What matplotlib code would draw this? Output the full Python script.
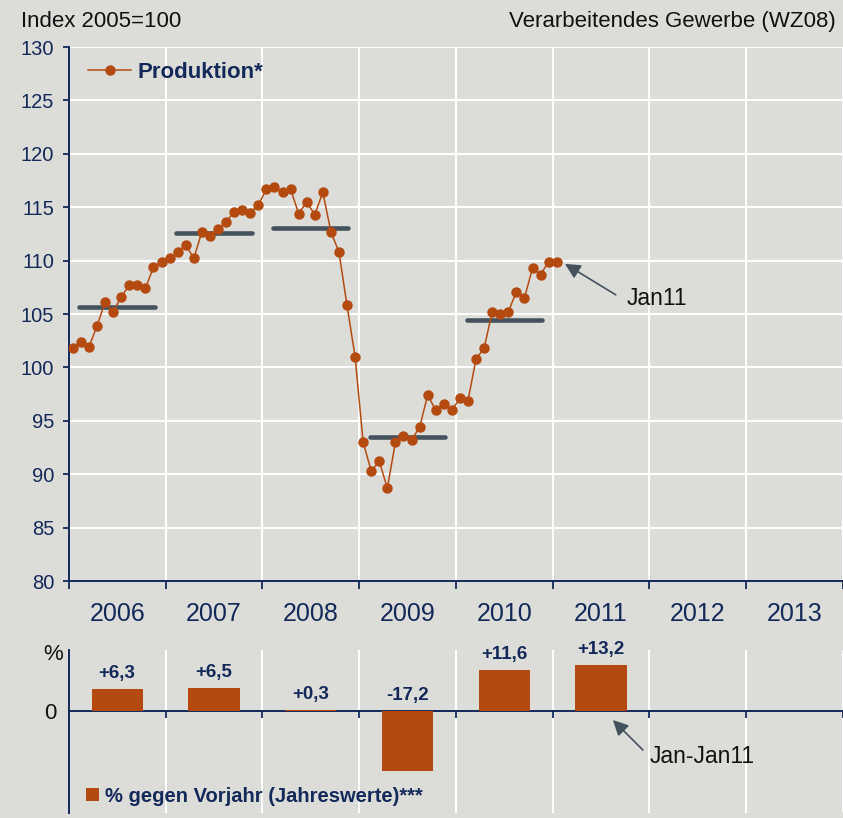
import numpy as np
import matplotlib
matplotlib.use("Agg")
import matplotlib.pyplot as plt
from matplotlib.lines import Line2D
from matplotlib.patches import Patch

plt.rcParams['font.family'] = ['Liberation Sans', 'DejaVu Sans']

# ---- data ----
years = [2006, 2007, 2008, 2009, 2010, 2011, 2012, 2013]
production = [
    101.8, 102.4, 101.9, 103.9, 106.1, 105.2, 106.6, 107.7, 107.7, 107.4, 109.4, 109.9,   # 2006
    110.2, 110.8, 111.5, 110.2, 112.7, 112.3, 113.0, 113.6, 114.6, 114.7, 114.5, 115.2,   # 2007
    116.7, 116.9, 116.4, 116.7, 114.4, 115.5, 114.3, 116.4, 112.7, 110.8, 105.8, 101.0,   # 2008
    93.0, 90.3, 91.2, 88.7, 93.0, 93.6, 93.2, 94.4, 97.4, 96.0, 96.6, 96.0,               # 2009
    97.1, 96.9, 100.8, 101.8, 105.2, 105.0, 105.2, 107.1, 106.5, 109.3, 108.7, 109.9,     # 2010
    109.9,                                                                                # Jan 2011
]
avg_years = [2006, 2007, 2008, 2009, 2010]
avg_values = [105.7, 112.6, 113.05, 93.45, 104.4]
pct_years = [2006, 2007, 2008, 2009, 2010, 2011]
pct_values = [6.3, 6.5, 0.3, -17.2, 11.6, 13.2]
y_ticks = [80, 85, 90, 95, 100, 105, 110, 115, 120, 125, 130]

# ---- style ----
BG = '#dcdcd8'
ORANGE = '#b44a10'
NAVY = '#13295a'
SLATE = '#44525e'

fig = plt.figure(figsize=(8.43, 8.18), dpi=100, facecolor=BG)
ax1 = fig.add_axes([0.0816, 0.2897, 0.9184, 0.6528], facecolor=BG)
ax2 = fig.add_axes([0.0816, 0.0061, 0.9184, 0.1993], facecolor=BG)

yr = np.array(years, dtype=float)
edges = np.append(yr, yr[-1] + 1)

# ---- top chart ----
mx = 2006 + (np.arange(len(production)) + 0.5) / 12.0
lc = ax1.hlines(avg_values, np.array(avg_years) + 0.11, np.array(avg_years) + 0.89,
                colors=SLATE, linewidth=3.3, zorder=3)
lc.set_capstyle('round')
ax1.plot(mx, production, color=ORANGE, lw=1.1, marker='o', markersize=6.5,
         markeredgecolor=ORANGE, markerfacecolor=ORANGE, zorder=4)

ax1.set_xlim(edges[0], edges[-1])
ax1.set_ylim(80, 130)
ax1.set_yticks(y_ticks)
ax1.set_yticklabels([str(v) for v in y_ticks])
ax1.set_xticks(edges)
ax1.set_xticklabels([])
ax1.set_xticks(yr + 0.5, minor=True)
ax1.set_xticklabels([str(y) for y in years], minor=True)
ax1.tick_params(axis='x', which='major', direction='out', length=6, width=1.3, color=NAVY)
ax1.tick_params(axis='x', which='minor', length=0, pad=15, labelsize=18, labelcolor=NAVY)
ax1.tick_params(axis='y', direction='out', length=4.5, width=1.3, color=NAVY,
                labelsize=14.5, labelcolor=NAVY, pad=6)
ax1.grid(True, color='white', lw=1.5)
ax1.set_axisbelow(True)
for s in ['top', 'right']:
    ax1.spines[s].set_visible(False)
for s in ['left', 'bottom']:
    ax1.spines[s].set_color(NAVY)
    ax1.spines[s].set_linewidth(1.4)

h1 = Line2D([], [], color=ORANGE, lw=1.1, marker='o', markersize=6.5)
leg1 = ax1.legend([h1], ['Produktion*'], loc='center left', bbox_to_anchor=(0.0248, 0.953),
                  frameon=False, borderpad=0, borderaxespad=0, handlelength=1.95,
                  handletextpad=0.3, numpoints=1,
                  prop={'size': 16, 'weight': 'bold'})
for t in leg1.get_texts():
    t.set_color(NAVY)

# annotation Jan11
ax1.annotate('', xy=(mx[-1] + 0.085, production[-1] - 0.2), xytext=(mx[-1] + 0.61, production[-1] - 3.1),
             arrowprops=dict(arrowstyle='-|>,head_length=0.4,head_width=0.2', mutation_scale=23,
                             color=SLATE, lw=1.2, shrinkA=0, shrinkB=0), zorder=5)
ax1.text(mx[-1] + 0.725, production[-1] - 3.4, 'Jan11', fontsize=16.5, color='#111111',
         ha='left', va='center')

# ---- bottom chart ----
px = np.array(pct_years) + 0.5
bars = ax2.bar(px, pct_values, width=0.53, color=ORANGE, zorder=5)
for x, v in zip(px, pct_values):
    lab = ('+' if v > 0 else '') + f'{v:.1f}'.replace('.', ',')
    ax2.annotate(lab, xy=(x, max(v, 0)), xytext=(0, 8), textcoords='offset points',
                 ha='center', va='baseline', fontsize=13.5, fontweight='bold', color=NAVY)

ax2.set_xlim(edges[0], edges[-1])
ax2.set_ylim(-29.14, 17.43)
ax2.set_xticks(edges)
ax2.set_xticklabels([])
ax2.set_yticks([0])
ax2.set_yticklabels(['0'])
ax2.tick_params(axis='x', direction='out', length=5, width=1.3, color=NAVY)
ax2.tick_params(axis='y', length=0, labelsize=16, labelcolor='#111111', pad=9)
ax2.grid(True, axis='x', color='white', lw=1.5)
ax2.set_axisbelow(True)
ax2.spines['bottom'].set_position(('data', 0))
for s in ['top', 'right']:
    ax2.spines[s].set_visible(False)
for s in ['left', 'bottom']:
    ax2.spines[s].set_color(NAVY)
    ax2.spines[s].set_linewidth(1.4)
ax2.spines['bottom'].set_zorder(4)
ax2.text(-0.007, 0.975, '%', transform=ax2.transAxes, ha='right', va='center',
         fontsize=16, color='#111111')

h2 = Patch(facecolor=ORANGE, edgecolor='none')
leg2 = ax2.legend([h2], ['% gegen Vorjahr (Jahreswerte)***'], loc='center left',
                  bbox_to_anchor=(0.0222, 0.104), frameon=False, borderpad=0, borderaxespad=0,
                  handlelength=0.65, handleheight=0.65, handletextpad=0.3,
                  prop={'size': 14.5, 'weight': 'bold'})
for t in leg2.get_texts():
    t.set_color(NAVY)

ax2.annotate('', xy=(2011.622, -2.57), xytext=(2011.932, -11.14),
             arrowprops=dict(arrowstyle='-|>,head_length=0.4,head_width=0.2', mutation_scale=23,
                             color=SLATE, lw=1.2, shrinkA=0, shrinkB=0), zorder=5)
ax2.text(2012.004, -13.14, 'Jan-Jan11', fontsize=16.5, color='#111111', ha='left', va='center')

# ---- header ----
fig.text(0.0245, 0.9666, 'Index 2005=100', fontsize=16, color='#111111', ha='left', va='baseline')
fig.text(0.9917, 0.9666, 'Verarbeitendes Gewerbe (WZ08)', fontsize=16, color='#111111',
         ha='right', va='baseline')

fig.savefig('out.png', dpi=100, facecolor=BG)
